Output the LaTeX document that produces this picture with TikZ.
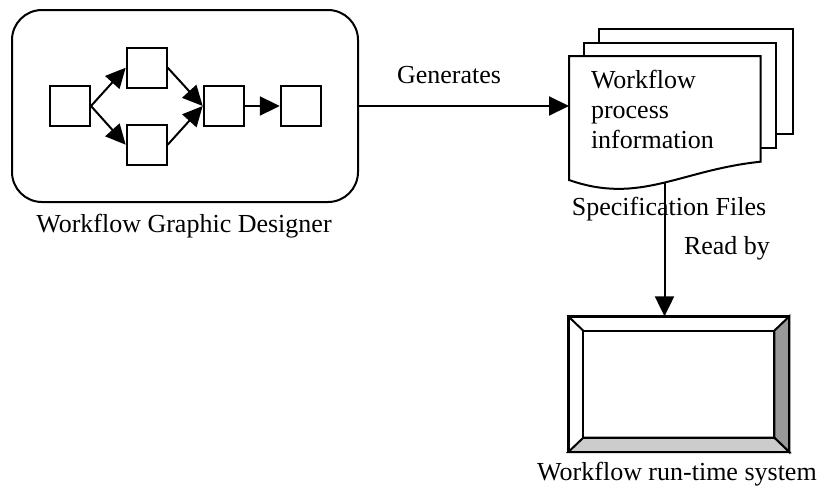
\documentclass[tikz,border=0pt]{standalone}
\usepackage{fontspec}
\setmainfont{Liberation Serif}
\usetikzlibrary{arrows.meta}
\begin{document}
\begin{tikzpicture}[x=1pt,y=-1pt,
  line width=2pt,
  font=\fontsize{26}{30}\selectfont,
  sbox/.style={draw,minimum size=40pt,inner sep=0pt},
  arr/.style={-{Triangle[length=20pt,width=19pt]}},
  lbl/.style={anchor=base,inner sep=0pt},
  docpage/.style={draw,fill=white,line join=miter}]
\useasboundingbox (0,0) rectangle (822,490);

% Graphic designer panel with a small process graph
\node[draw,rounded corners=30pt,minimum width=346pt,minimum height=192pt,inner sep=0pt] (designer) at (185,106) {};
\node[sbox] (b1) at (70,106) {};
\node[sbox] (b2) at (146.7,67.7) {};
\node[sbox] (b3) at (146.7,144.7) {};
\node[sbox] (b4) at (223.7,106) {};
\node[sbox] (b5) at (300.8,106) {};
\draw[arr] (b1.east) -- (b2.west);
\draw[arr] (b1.east) -- (b3.west);
\draw[arr] (b2.east) -- (b4.west);
\draw[arr] (b3.east) -- (b4.west);
\draw[arr] (b4.east) -- (b5.west);
\node[lbl] (designerlbl) at (184,232) {Workflow Graphic Designer};

% Stack of specification documents
\draw[docpage] (599.3,28.7) rectangle (792.7,134.3);
\draw[docpage] (584.3,42.7) rectangle (776,148.3);
\draw[docpage] (569,180) -- (569,56) -- (760.7,56) -- (760.7,161.7)
  .. controls (680,170) and (640,205) .. (569,180) -- cycle;
\coordinate (docin) at (569,106);
\coordinate (docbot) at (664.5,183);
\node[anchor=north west,align=left,inner sep=0pt] (info) at (590,69) {Workflow\\process\\information};
\node[lbl] (speclbl) at (669,215) {Specification Files};

% Generates connector
\draw[arr] (designer.east) -- (docin);
\node[lbl] (genlbl) at (449,83) {Generates};

% Run-time system display
\node[draw,minimum width=219pt,minimum height=133.7pt,inner sep=0pt] (disp) at (678.8,384.2) {};
\node[minimum width=189pt,minimum height=105pt,inner sep=0pt] (dispin) at (678.8,384.2) {};
\filldraw[fill=black!40,line join=miter] (disp.north east) -- (dispin.north east) -- (dispin.south east) -- (disp.south east) -- cycle;
\filldraw[fill=black!20,line join=miter] (disp.south west) -- (dispin.south west) -- (dispin.south east) -- (disp.south east) -- cycle;
\draw (disp.north west) -- (dispin.north west);
\draw (dispin.south west) rectangle (dispin.north east);
\draw (disp.north west) rectangle (disp.south east);
\node[lbl] (runlbl) at (677,480) {Workflow run-time system};

% Read by connector
\draw[arr] (docbot) -- (docbot |- disp.north);
\node[lbl] (readlbl) at (727,254) {Read by};
\end{tikzpicture}
\end{document}
